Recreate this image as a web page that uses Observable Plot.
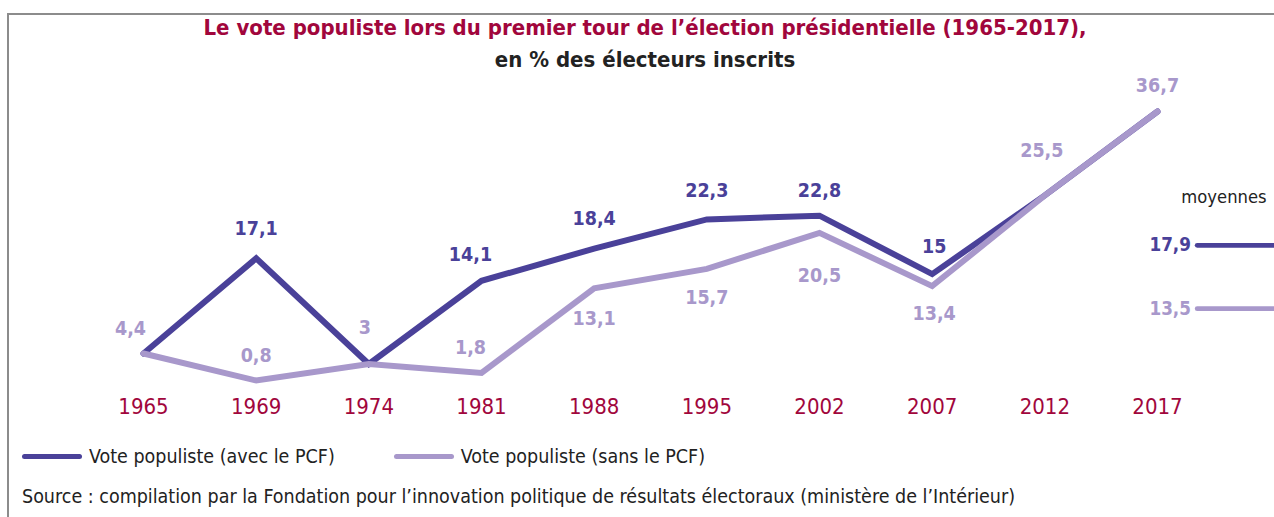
<!DOCTYPE html>
<html>
<head>
<meta charset="utf-8">
<script src="https://cdn.jsdelivr.net/npm/d3@7"></script>
<script src="https://cdn.jsdelivr.net/npm/@observablehq/plot@0.6"></script>
<style>
  body { margin: 0; width: 1274px; height: 517px; overflow: hidden; background: #fff; position: relative;
         font-family: "DejaVu Sans Condensed", "Liberation Sans", sans-serif; }
  #frame { position: absolute; left: 7px; top: 13px; width: 1400px; height: 700px; border: 2px solid #8c8c8c; box-sizing: border-box; }
  .title { position: absolute; left: 0; width: 1290px; text-align: center; font-weight: bold; font-size: 22px; line-height: 28px; }
  #title { top: 14px; color: #a1063c; }
  #subtitle { top: 46px; color: #222; }
  #chart { position: absolute; left: 0; top: 80px; }
  #avg { position: absolute; left: 1130px; top: 193px; }
  #legend { position: absolute; left: 22px; top: 443px; font-size: 19.5px; color: #222; display: flex; align-items: center; height: 26px; }
  #legend .item { display: flex; align-items: center; margin-right: 59px; }
  #legend .sw { display: inline-block; width: 60px; height: 5px; border-radius: 3px; margin-right: 7px; }
  #source { position: absolute; left: 22px; top: 485px; font-size: 19.5px; color: #222; white-space: nowrap; }
</style>
</head>
<body>
<div id="frame"></div>
<div id="title" class="title">Le vote populiste lors du premier tour de l’élection présidentielle (1965-2017),</div>
<div id="subtitle" class="title">en % des électeurs inscrits</div>
<div id="chart"></div>
<div id="avg"></div>
<div id="legend"></div>
<div id="source">Source : compilation par la Fondation pour l’innovation politique de résultats électoraux (ministère de l’Intérieur)</div>
<script>
// ---- data ----
const years = ["1965", "1969", "1974", "1981", "1988", "1995", "2002", "2007", "2012", "2017"];
const avecPCF = [4.4, 17.1, 3, 14.1, 18.4, 22.3, 22.8, 15, 25.5, 36.7];
const sansPCF = [4.4, 0.8, 3, 1.8, 13.1, 15.7, 20.5, 13.4, 25.5, 36.7];
const seriesNames = ["Vote populiste (avec le PCF)", "Vote populiste (sans le PCF)"];
const averages = [17.9, 13.5];
const averagesTitle = "moyennes";

// ---- styles / layout ----
const colors = ["#4a4199", "#a898cb"];
const yearColor = "#a1063c";
const font = '"DejaVu Sans Condensed", sans-serif';
// label offsets (px) relative to each point; null = no label
const labelOffsets = [
  [null, [0, -30], null, [-11, -26], [0, -30], [0, -29], [0, -25], [2, -27], null, null],
  [[-13, -25], [0, -25], [-4, -36], [-11, -25], [0, 30], [0, 29], [0, 43], [2, 28], [-3, -45], [0, -26]]
];

const fmt = v => String(v).replace(".", ",");

const rows = [];
[avecPCF, sansPCF].forEach((vals, s) => {
  vals.forEach((v, i) => rows.push({series: seriesNames[s], s, i, year: years[i], value: v}));
});

const labelMarks = [];
rows.forEach(r => {
  const off = labelOffsets[r.s][r.i];
  if (!off) return;
  labelMarks.push(Plot.text([r], {
    x: "i", y: "value", text: d => fmt(d.value),
    dx: off[0], dy: off[1], fill: colors[r.s],
    fontSize: 19.5, fontWeight: "bold"
  }));
});

const chart = Plot.plot({
  width: 1274,
  height: 345,
  marginLeft: 143,
  marginRight: 117,
  marginTop: 31,
  marginBottom: 39,
  style: {fontFamily: font, background: "transparent", overflow: "visible"},
  x: {domain: [0, years.length - 1], axis: null},
  y: {domain: [0, 36.7], axis: null},
  marks: [
    Plot.axisX(years.map((d, i) => i), {
      tickFormat: i => years[i], tickSize: 0, tickPadding: 12,
      fontSize: 22, fill: yearColor, label: null
    }),
    Plot.line(rows.filter(d => d.s === 0), {x: "i", y: "value", stroke: colors[0], strokeWidth: 6, strokeLinejoin: "miter", strokeMiterlimit: 4}),
    Plot.line(rows.filter(d => d.s === 1), {x: "i", y: "value", stroke: colors[1], strokeWidth: 6, strokeLinejoin: "miter", strokeMiterlimit: 4}),
    ...labelMarks
  ]
});
document.getElementById("chart").append(chart);

// averages panel (categorical y scale: one row per series)
const avgRows = averages.map((v, s) => ({series: seriesNames[s], s, value: v}));
const avgPlot = Plot.plot({
  width: 150,
  height: 160,
  marginLeft: 70,
  marginRight: 0,
  marginTop: 54,
  marginBottom: 40,
  style: {fontFamily: font, background: "transparent", overflow: "visible"},
  y: {type: "point", domain: seriesNames, axis: null, padding: 0},
  marks: [
    Plot.ruleY(avgRows, {y: "series", stroke: d => colors[d.s], strokeWidth: 5}),
    Plot.text(avgRows, {y: "series", text: d => fmt(d.value), frameAnchor: "left", textAnchor: "end", dx: -7,
      fill: d => colors[d.s], fontSize: 19.5, fontWeight: "bold"}),
    Plot.text([averagesTitle], {text: d => d, frameAnchor: "top-left", textAnchor: "start", dx: -17, dy: -50,
      lineAnchor: "middle", fill: "#222", fontSize: 19})
  ]
});
avgPlot.querySelectorAll("line").forEach(l => l.setAttribute("stroke-linecap", "round"));
document.getElementById("avg").append(avgPlot);

// legend
const legend = document.getElementById("legend");
seriesNames.forEach((name, s) => {
  const item = document.createElement("div");
  item.className = "item";
  const sw = document.createElement("span");
  sw.className = "sw";
  sw.style.background = colors[s];
  item.append(sw, document.createTextNode(name));
  legend.append(item);
});
</script>
</body>
</html>
